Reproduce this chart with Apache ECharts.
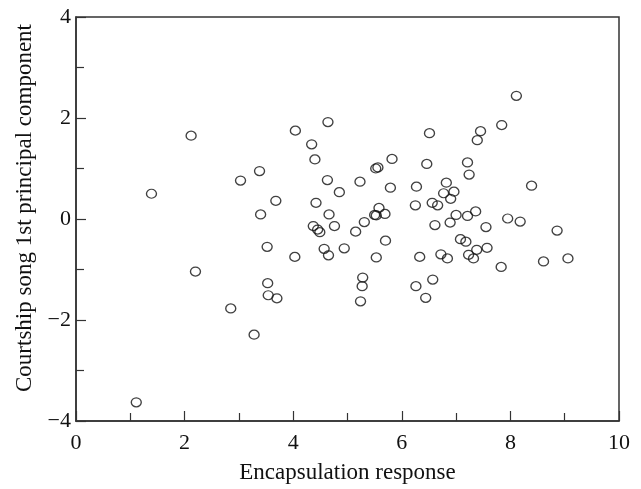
<!DOCTYPE html>
<html>
<head>
<meta charset="utf-8">
<script src="https://cdn.jsdelivr.net/npm/echarts@6/dist/echarts.min.js"></script>
<style>html,body{margin:0;padding:0;background:#fff}#c{width:641px;height:489px}</style>
</head>
<body>
<div id="c"></div>
<script>
const encapsulation = [1.11,1.39,2.12,2.20,2.85,3.03,3.28,3.38,3.40,3.52,3.53,3.54,3.68,3.70,4.03,4.04,4.34,4.40,4.42,4.37,4.45,4.49,4.57,4.63,4.64,4.65,4.66,4.76,4.85,4.94,5.15,5.23,5.27,5.28,5.24,5.31,5.50,5.53,5.52,5.56,5.53,5.58,5.69,5.70,5.79,5.82,6.25,6.26,6.27,6.33,6.44,6.46,6.51,6.56,6.57,6.61,6.66,6.72,6.77,6.82,6.84,6.89,6.90,6.96,7.00,7.08,7.18,7.21,7.24,7.21,7.23,7.32,7.36,7.38,7.39,7.45,7.55,7.57,7.83,7.84,7.95,8.11,8.18,8.39,8.61,8.86,9.06];
const songPC1 = [-3.63,0.50,1.65,-1.04,-1.77,0.76,-2.29,0.95,0.09,-0.55,-1.27,-1.51,0.36,-1.57,-0.75,1.75,1.48,1.18,0.32,-0.14,-0.21,-0.26,-0.59,0.77,1.92,-0.72,0.09,-0.14,0.53,-0.58,-0.25,0.74,-1.33,-1.16,-1.63,-0.06,0.08,0.07,1.00,1.02,-0.76,0.22,0.10,-0.43,0.62,1.19,0.27,-1.33,0.64,-0.75,-1.56,1.09,1.70,0.32,-1.20,-0.12,0.27,-0.70,0.51,0.72,-0.78,-0.07,0.40,0.54,0.08,-0.40,-0.45,1.12,0.88,0.06,-0.71,-0.78,0.15,-0.61,1.56,1.74,-0.16,-0.57,-0.95,1.86,0.01,2.44,-0.05,0.66,-0.84,-0.23,-0.78];
const xTicks = [0,2,4,6,8,10];
const yTicks = [-4,-2,0,2,4];
const xTitle = 'Encapsulation response';
const yTitle = 'Courtship song 1st principal component';

const pts = encapsulation.map((x,i)=>[x, songPC1[i]]);
const font = 'Liberation Serif';
const axisCol = '#333';
const fmt = v => String(v).replace('-','\u2212');
const chart = echarts.init(document.getElementById('c'), null, {renderer:'canvas'});
chart.setOption({
  animation:false,
  backgroundColor:'#fff',
  grid:{left:76,right:22,top:17,bottom:62,show:true,borderColor:axisCol,borderWidth:1.5,backgroundColor:'transparent'},
  xAxis:{type:'value',min:xTicks[0],max:xTicks[xTicks.length-1],interval:2,
    name:xTitle,nameLocation:'middle',nameGap:40,
    nameTextStyle:{fontFamily:font,fontSize:23,color:'#111'},
    axisLine:{onZero:false,lineStyle:{color:axisCol,width:1.5}},
    axisTick:{inside:true,length:10,lineStyle:{color:axisCol,width:1.2}},
    minorTick:{show:true,splitNumber:2,length:8,lineStyle:{color:axisCol,width:1.2}},
    splitLine:{show:false},
    axisLabel:{fontFamily:font,fontSize:22,color:'#111',margin:11,formatter:fmt}},
  yAxis:{type:'value',min:yTicks[0],max:yTicks[yTicks.length-1],interval:2,
    name:yTitle,nameLocation:'middle',nameGap:28,nameRotate:90,
    nameTextStyle:{fontFamily:font,fontSize:23,color:'#111',padding:[0,0,0,22]},
    axisLine:{onZero:false,lineStyle:{color:axisCol,width:1.5}},
    axisTick:{inside:true,length:10,lineStyle:{color:axisCol,width:1.2}},
    minorTick:{show:true,splitNumber:2,length:8,lineStyle:{color:axisCol,width:1.2}},
    splitLine:{show:false},
    axisLabel:{fontFamily:font,fontSize:22,color:'#111',margin:5,formatter:fmt}},
  series:[{type:'scatter',data:pts,symbol:'circle',symbolSize:[10,9],
    itemStyle:{color:'rgba(0,0,0,0)',borderColor:'#111',borderWidth:1.3}}]
});
</script>
</body>
</html>
